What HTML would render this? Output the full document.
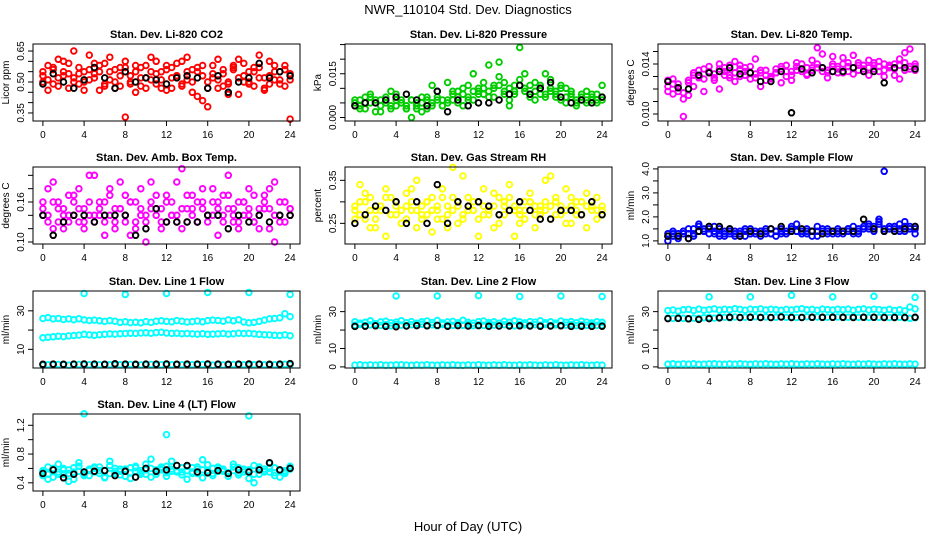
<!DOCTYPE html>
<html><head><meta charset="utf-8"><style>
html,body{margin:0;padding:0;background:#fff}
svg{display:block;font-family:"Liberation Sans",Arial,sans-serif}
</style></head><body>
<svg id="chart" width="936" height="540" viewBox="0 0 936 540" xmlns="http://www.w3.org/2000/svg">
<rect width="936" height="540" fill="#fff"/>
<text x="468" y="14" font-size="13" text-anchor="middle">NWR_110104  Std. Dev. Diagnostics</text>
<text x="468" y="531" font-size="13" text-anchor="middle">Hour of Day (UTC)</text>
</svg>
<script>
// ---- data ----
const xTickLabels=[0,4,8,12,16,20,24];
const co2A=[0.53,0.58,0.49,0.61,0.55,0.47,0.52,0.57,0.50,0.63,0.54,0.46,0.59,0.51,0.56,0.48,0.60,0.53,0.45,0.57,0.52,0.62,0.49,0.55,0.58,0.47,0.53,0.60,0.51,0.56,0.43,0.58,0.50,0.54,0.61,0.48,0.44,0.57,0.52,0.59,0.50,0.55,0.63,0.47,0.53,0.58,0.49,0.56,0.51];
const co2B=[0.50,0.46,0.56,0.52,0.60,0.54,0.65,0.49,0.55,0.51,0.59,0.55,0.48,0.62,0.50,0.57,0.33,0.49,0.58,0.52,0.47,0.55,0.60,0.51,0.46,0.57,0.53,0.49,0.62,0.45,0.55,0.41,0.38,0.52,0.47,0.56,0.50,0.58,0.44,0.53,0.49,0.57,0.52,0.46,0.60,0.51,0.55,0.48,0.32];
const co2C=[0.55,0.51,0.57,0.48,0.53,0.59,0.50,0.54,0.46,0.56,0.52,0.58,0.49,0.55,0.47,0.53,0.57,0.50,0.55,0.48,0.58,0.51,0.54,0.47,0.56,0.52,0.59,0.48,0.55,0.50,0.57,0.53,0.47,0.58,0.51,0.54,0.49,0.56,0.61,0.50,0.55,0.48,0.57,0.52,0.49,0.55,0.51,0.58,0.54];
const co2K=[0.49,0.54,0.50,0.47,0.51,0.57,0.52,0.47,0.55,0.50,0.52,0.51,0.49,0.52,0.53,0.52,0.47,0.53,0.45,0.50,0.52,0.59,0.52,0.55,0.53];
const prA=[0.004,0.006,0.003,0.007,0.005,0.002,0.006,0.004,0.008,0.005,0.003,0.006,0.004,0.007,0.003,0.005,0.009,0.004,0.006,0.008,0.005,0.010,0.007,0.006,0.009,0.012,0.007,0.010,0.014,0.008,0.006,0.011,0.013,0.009,0.007,0.012,0.010,0.008,0.013,0.009,0.006,0.010,0.007,0.005,0.008,0.006,0.007,0.005,0.011];
const prB=[0.006,0.003,0.005,0.008,0.002,0.006,0.005,0.009,0.004,0.006,0.003,0.000,0.005,0.002,0.007,0.011,0.006,0.004,0.012,0.006,0.009,0.004,0.011,0.015,0.010,0.008,0.018,0.011,0.019,0.012,0.004,0.009,0.024,0.015,0.011,0.006,0.008,0.015,0.010,0.007,0.011,0.005,0.009,0.004,0.007,0.009,0.006,0.008,0.006];
const prC=[0.005,0.004,0.007,0.005,0.006,0.004,0.007,0.003,0.006,0.005,0.004,0.006,0.003,0.005,0.006,0.004,0.007,0.006,0.005,0.009,0.007,0.008,0.006,0.009,0.008,0.010,0.009,0.007,0.011,0.009,0.010,0.008,0.011,0.010,0.008,0.009,0.011,0.007,0.009,0.008,0.010,0.007,0.008,0.006,0.007,0.005,0.008,0.006,0.007];
const prK=[0.004,0.005,0.005,0.006,0.007,0.008,0.006,0.004,0.009,0.002,0.006,0.004,0.005,0.005,0.006,0.008,0.011,0.008,0.010,0.012,0.007,0.005,0.006,0.005,0.007];
const tmA=[0.0122,0.0128,0.0118,0.0112,0.0125,0.0131,0.0135,0.0128,0.0138,0.0132,0.0140,0.0134,0.0129,0.0142,0.0136,0.0131,0.0138,0.0144,0.0133,0.0127,0.0130,0.0136,0.0125,0.0139,0.0134,0.0141,0.0136,0.0131,0.0143,0.0137,0.0148,0.0135,0.0140,0.0133,0.0145,0.0138,0.0132,0.0141,0.0136,0.0143,0.0139,0.0134,0.0140,0.0137,0.0131,0.0144,0.0149,0.0138,0.0135];
const tmB=[0.0127,0.0116,0.0124,0.0098,0.0115,0.0122,0.0129,0.0118,0.0133,0.0127,0.0120,0.0137,0.0131,0.0126,0.0139,0.0134,0.0128,0.0132,0.0122,0.0135,0.0129,0.0133,0.0138,0.0130,0.0127,0.0135,0.0140,0.0132,0.0137,0.0153,0.0134,0.0129,0.0146,0.0138,0.0133,0.0141,0.0147,0.0135,0.0139,0.0131,0.0136,0.0142,0.0130,0.0138,0.0140,0.0128,0.0135,0.0152,0.0140];
const tmC=[0.0118,0.0124,0.0121,0.0117,0.0127,0.0133,0.0130,0.0136,0.0134,0.0129,0.0136,0.0131,0.0139,0.0133,0.0130,0.0137,0.0133,0.0129,0.0135,0.0131,0.0128,0.0133,0.0136,0.0134,0.0131,0.0138,0.0134,0.0137,0.0135,0.0140,0.0137,0.0133,0.0138,0.0136,0.0140,0.0134,0.0137,0.0139,0.0134,0.0137,0.0141,0.0138,0.0135,0.0139,0.0136,0.0139,0.0141,0.0136,0.0138];
const tmK=[0.0126,0.0121,0.0120,0.0131,0.0133,0.0134,0.0137,0.0132,0.0133,0.0126,0.0126,0.0134,0.0101,0.0136,0.0133,0.0137,0.0134,0.0134,0.0137,0.0134,0.0134,0.0125,0.0137,0.0137,0.0136];
const abA=[0.16,0.13,0.19,0.15,0.12,0.17,0.14,0.18,0.13,0.16,0.20,0.14,0.11,0.17,0.15,0.19,0.13,0.16,0.12,0.18,0.10,0.15,0.17,0.13,0.16,0.14,0.19,0.12,0.17,0.15,0.13,0.18,0.14,0.16,0.11,0.17,0.20,0.14,0.12,0.16,0.18,0.13,0.15,0.17,0.12,0.19,0.14,0.16,0.15];
const abB=[0.14,0.18,0.12,0.16,0.14,0.13,0.17,0.15,0.12,0.20,0.14,0.16,0.13,0.18,0.12,0.15,0.17,0.11,0.16,0.14,0.13,0.19,0.15,0.12,0.17,0.14,0.13,0.21,0.15,0.17,0.13,0.16,0.14,0.18,0.15,0.13,0.17,0.15,0.13,0.16,0.14,0.17,0.12,0.15,0.18,0.10,0.13,0.16,0.14];
const abC=[0.15,0.14,0.16,0.13,0.15,0.14,0.16,0.13,0.15,0.14,0.13,0.15,0.16,0.14,0.13,0.15,0.14,0.16,0.13,0.15,0.14,0.16,0.14,0.15,0.13,0.16,0.14,0.15,0.13,0.14,0.16,0.15,0.13,0.14,0.16,0.14,0.15,0.13,0.16,0.14,0.15,0.13,0.14,0.16,0.15,0.14,0.16,0.13,0.15];
const abK=[0.14,0.11,0.13,0.14,0.14,0.13,0.14,0.14,0.14,0.11,0.12,0.15,0.13,0.13,0.13,0.13,0.14,0.14,0.12,0.14,0.13,0.14,0.13,0.14,0.14];
const rhA=[0.29,0.34,0.26,0.31,0.24,0.28,0.33,0.27,0.30,0.25,0.32,0.28,0.35,0.26,0.30,0.23,0.29,0.33,0.27,0.31,0.25,0.36,0.28,0.30,0.26,0.33,0.29,0.24,0.31,0.27,0.34,0.28,0.25,0.30,0.32,0.27,0.29,0.35,0.26,0.31,0.28,0.33,0.25,0.30,0.27,0.32,0.29,0.26,0.28];
const rhB=[0.26,0.30,0.32,0.24,0.28,0.29,0.22,0.31,0.27,0.25,0.29,0.33,0.24,0.27,0.30,0.28,0.26,0.31,0.24,0.38,0.29,0.26,0.31,0.28,0.22,0.29,0.27,0.32,0.25,0.29,0.31,0.22,0.28,0.26,0.30,0.24,0.28,0.30,0.36,0.27,0.29,0.25,0.31,0.27,0.30,0.24,0.28,0.31,0.27];
const rhC=[0.28,0.27,0.30,0.28,0.26,0.29,0.31,0.27,0.29,0.28,0.26,0.30,0.28,0.29,0.27,0.31,0.28,0.26,0.29,0.28,0.30,0.27,0.29,0.28,0.30,0.27,0.28,0.29,0.27,0.30,0.28,0.29,0.27,0.28,0.30,0.29,0.27,0.28,0.29,0.30,0.27,0.28,0.29,0.28,0.27,0.29,0.30,0.28,0.29];
const rhK=[0.25,0.27,0.29,0.28,0.30,0.25,0.30,0.25,0.34,0.25,0.30,0.29,0.30,0.29,0.27,0.28,0.30,0.28,0.26,0.26,0.28,0.28,0.27,0.30,0.27];
const sfA=[1.2,1.4,1.1,1.3,1.5,1.2,1.7,1.4,1.6,1.3,1.5,1.2,1.4,1.3,1.2,1.5,1.3,1.4,1.2,1.5,1.3,1.4,1.5,1.3,1.6,1.4,1.3,1.5,1.4,1.2,1.5,1.3,1.4,1.5,1.3,1.4,1.6,1.3,1.5,1.7,1.5,1.8,1.4,1.6,1.5,1.7,1.4,1.6,1.5];
const sfB=[1.0,1.3,1.2,1.4,1.1,1.3,1.4,1.5,1.3,1.6,1.2,1.3,1.5,1.2,1.4,1.2,1.5,1.3,1.4,1.3,1.5,1.2,1.4,1.3,1.4,1.7,1.3,1.4,1.2,1.6,1.3,1.5,1.4,1.3,1.4,1.5,1.3,1.4,1.6,1.5,1.4,1.9,3.9,1.5,1.6,1.4,1.8,1.5,1.3];
const sfC=[1.3,1.2,1.3,1.4,1.3,1.5,1.6,1.4,1.5,1.4,1.3,1.4,1.3,1.4,1.3,1.4,1.3,1.3,1.4,1.4,1.3,1.4,1.3,1.4,1.5,1.4,1.4,1.3,1.4,1.4,1.4,1.4,1.3,1.4,1.4,1.5,1.4,1.5,1.5,1.6,1.6,1.7,1.5,1.5,1.6,1.5,1.6,1.5,1.6];
const sfK=[1.2,1.2,1.1,1.4,1.6,1.6,1.5,1.2,1.4,1.3,1.5,1.6,1.4,1.5,1.4,1.3,1.4,1.4,1.4,1.9,1.5,1.4,1.4,1.5,1.6];
const l1Up=[26,26.5,25.8,26,25.5,25.8,25.4,25.9,25.3,25,25.2,24.8,24.5,24.9,24.6,24,24.3,23.9,24.1,23.8,24.4,24,24.6,24.8,24.5,24.3,24.9,24.6,24.2,24.4,24.7,24.3,24.9,25.2,25,24.6,25.3,24.8,25.4,24.2,23.8,24,24.5,25.2,25.8,26,26.3,28.5,27];
const l1Lo=[16,16.3,16.5,16.8,16.6,17,17.2,17.4,17.8,17.5,17.3,17.6,17.8,18,17.9,18.1,18.2,18.4,18.3,18.5,18.6,18.4,18.7,18.9,18.5,18.3,18.4,18.1,18.2,18,17.9,18.1,17.8,17.9,18,18.2,17.9,18.1,18.4,18.2,18.3,18,17.8,17.6,17.5,17.3,17.2,17.5,17.1];
const l1Bot=[1.8,2,1.9,2.1,2,1.8,2,2.1,1.9,2,1.8,2,2.1,2,1.9,2,1.8,2.1,2,1.9,2,2.1,1.8,2,1.9,2,2.1,2,1.8,2,1.9,2.1,2,1.8,2,1.9,2,2.1,1.9,2,1.8,2,2.1,2,1.9,2,1.8,2.2,2];
const l1K=[2.2,2.3,2.2,2.3,2.4,2.3,2.2,2.5,2.3,2.2,2.3,2.3,2.4,2.2,2.3,2.3,2.4,2.3,2.2,2.3,2.4,2.3,2.2,2.3,2.6];
const outH=[4,8,12,16,20,24];
const l1Out=[39,38.5,39,39.5,39.5,38.5];
const l2Up=[24.5,23.8,24.2,25,23.5,24.4,24.8,23.9,24.3,25.1,24,24.6,23.7,24.5,24.9,24.1,25.2,23.9,24.4,24.7,24,25.3,24.2,23.8,24.6,24.9,24.1,24.5,23.7,24.8,24.2,25,24.4,23.9,24.6,24.3,25.1,24,24.5,23.8,24.9,24.2,24.6,24,24.8,24.3,23.9,24.5,24.2];
const l2Lo=[22.6,23,22.4,22.8,23.1,22.5,22.9,22.3,23,22.7,22.4,22.9,22.6,23.1,22.5,22.8,22.3,23,22.7,22.5,22.9,22.6,23,22.4,22.8,22.5,23.1,22.7,22.4,22.9,22.6,22.3,23,22.8,22.5,22.9,22.6,23,22.4,22.8,22.5,22.7,23,22.4,22.8,22.6,22.9,22.5,22.7];
const l2Bot=[1,1.2,0.9,1.1,1,1.2,0.9,1,1.1,1.2,1,0.9,1.1,1,1.2,1,0.9,1.1,1,1.2,1,0.9,1.1,1,1.2,1,0.9,1.1,1,1.2,1,0.9,1.1,1,1.2,1,0.9,1.1,1,1.2,1,0.9,1.1,1,1.2,1,0.9,1.1,1];
const l2K=[22,22.1,22.3,22,21.8,22.2,22.4,22.3,22.5,22.1,22.4,22.2,22.4,22.1,22.2,22.2,22.3,22.2,22.1,22.2,22.3,22,22.1,22,22.1];
const l2Out=[38.5,38.5,38.7,38.2,38.5,38.2];
const l3Up=[30.6,30.9,30.3,31,31.2,30.6,31.4,30.8,31.1,31.5,30.9,31.3,31,31.6,31.2,30.8,31.4,31.1,31.5,30.9,31.3,31,30.7,31.2,30.9,31.3,31.6,31,31.2,30.8,31.4,31.1,30.9,31.3,31,31.4,30.8,31.2,31.5,30.9,31.3,31.1,30.8,31.2,30.6,31,30.4,32.5,31.5];
const l3Mid=[26.5,26.3,26.6,26.4,26.2,26.5,26.3,26.7,26.8,26.5,26.9,27,26.7,27.1,26.8,27,26.9,27.2,26.9,27.1,26.8,27,27.2,26.9,27.1,26.8,27,27.2,26.9,27.1,26.8,27,26.9,27.1,26.8,27,27.2,26.9,27.1,26.8,27,26.9,27.1,26.8,27,26.9,26.6,26.4,26.7];
const l3Bot=[1.5,1.7,1.4,1.6,1.5,1.7,1.4,1.5,1.6,1.7,1.5,1.4,1.6,1.5,1.7,1.5,1.4,1.6,1.5,1.7,1.5,1.4,1.6,1.5,1.7,1.5,1.4,1.6,1.5,1.7,1.5,1.4,1.6,1.5,1.7,1.5,1.4,1.6,1.5,1.7,1.5,1.4,1.6,1.5,1.7,1.5,1.4,1.6,1.5];
const l3K=[26.2,26.3,26.1,25.8,26.2,26.6,26.9,26.8,26.9,26.8,26.8,27.1,26.8,26.8,26.9,26.9,26.9,26.9,26.8,26.9,26.9,26.8,26.8,26.8,26.9];
const l3Out=[38,38,38.8,38,38.3,37.8];
const l4A=[0.55,0.62,0.48,0.66,0.52,0.58,0.45,0.63,0.55,0.50,0.60,0.57,0.47,0.64,0.53,0.59,0.49,0.61,0.56,0.52,0.66,0.48,0.58,0.62,0.54,0.70,0.57,0.51,0.63,0.55,0.59,0.47,0.65,0.53,0.60,0.56,0.49,0.62,0.54,0.58,0.46,0.64,0.52,0.59,0.55,0.61,0.48,0.57,0.63];
const l4B=[0.50,0.45,0.58,0.52,0.60,0.42,0.55,0.68,0.50,0.57,0.62,0.53,0.48,0.70,0.56,0.51,0.59,0.46,0.63,0.54,0.58,0.73,0.52,0.60,0.49,0.56,0.64,0.55,0.45,0.61,0.53,0.72,0.57,0.50,0.62,0.58,0.54,0.66,0.51,0.59,0.56,0.40,0.62,0.55,0.67,0.50,0.58,0.53,0.60];
const l4C=[0.57,0.52,0.60,0.55,0.58,0.53,0.61,0.56,0.52,0.59,0.55,0.62,0.57,0.53,0.60,0.56,0.58,0.54,0.61,0.57,0.52,0.60,0.55,0.58,0.63,0.59,0.55,0.61,0.57,0.53,0.62,0.58,0.54,0.60,0.56,0.59,0.53,0.57,0.61,0.55,0.58,0.52,0.59,0.56,0.60,0.54,0.57,0.55,0.59];
const l4K=[0.53,0.58,0.47,0.52,0.55,0.56,0.57,0.50,0.56,0.48,0.60,0.56,0.58,0.64,0.64,0.55,0.54,0.57,0.53,0.58,0.55,0.58,0.68,0.58,0.60];
const l4OutH=[4,12,20];
const l4Out=[1.36,1.07,1.33];

// ---- layout ----
const svg=document.getElementById('chart');
const NS='http://www.w3.org/2000/svg';
const colX=[33,345,658], rowY=[44,167,291,414], W=267, H=77;
function mk(tag,attrs,parent){const e=document.createElementNS(NS,tag);for(const k in attrs)e.setAttribute(k,attrs[k]);(parent||svg).appendChild(e);return e;}
function evenHours(n){const h=[];for(let i=0;i<n;i++)h.push(i*24/(n-1));return h;}

function panel(p){
  const L=colX[p.col], T=rowY[p.row];
  const g=mk('g',{});
  
  
  const xs=h=>L+9.9+h*(W-19.8)/24;
  const ys=v=>T+H-(v-p.ymin)/(p.ymax-p.ymin)*H;
  const t=mk('text',{x:L+W/2,y:T-6,'font-size':11,'font-weight':'bold','text-anchor':'middle'},g);
  t.textContent=p.title;
  
  
  p.series.forEach(s=>{
    const hrs=s.hours||evenHours(s.values.length);
    s.values.forEach((v,i)=>{
      const c=mk('circle',{cx:xs(hrs[i]).toFixed(1),cy:ys(v).toFixed(1),r:2.8,fill:'none',stroke:s.color,'stroke-width':1.9},g);
      
      
    });
  });
  const box=mk('rect',{x:L,y:T,width:W,height:H,fill:'none',stroke:'#000','stroke-width':1},g);
  
  
  xTickLabels.forEach(h=>{
    mk('line',{x1:xs(h),x2:xs(h),y1:T+H,y2:T+H+5,stroke:'#000'},g);
    const tl=mk('text',{x:xs(h),y:T+H+17,'font-size':10,'text-anchor':'middle'},g);
    tl.textContent=h;
    
    
  });
  p.yticks.forEach(v=>{
    if(v<p.ymin||v>p.ymax)return;
    mk('line',{x1:L-5,x2:L,y1:ys(v),y2:ys(v),stroke:'#000'},g);
  });
  p.ylabels.forEach(v=>{
    const y=ys(v);
    const tl=mk('text',{x:L-9,y:y,'font-size':10,'text-anchor':'middle',transform:`rotate(-90 ${L-9} ${y})`},g);
    tl.textContent=p.fmt(v);
    
    
  });
  const yl=mk('text',{x:L-24,y:T+H/2,'font-size':10,'text-anchor':'middle',transform:`rotate(-90 ${L-24} ${T+H/2})`},g);
  yl.textContent=p.ylab;
  
  
}
const f2=v=>v.toFixed(2), f3=v=>v.toFixed(3), f1=v=>v.toFixed(1), f0=v=>v.toFixed(0);
const RED='#ff0000',GRN='#00cc00',MAG='#ff00ff',YEL='#ffff00',BLU='#0000ff',CYN='#00ffff',BLK='#000';
panel({name:'panel-co2',col:0,row:0,title:'Stan. Dev. Li-820 CO2',ylab:'Licor ppm',ymin:0.311,ymax:0.684,yticks:[0.35,0.40,0.45,0.50,0.55,0.60,0.65],ylabels:[0.35,0.50,0.65],fmt:f2,
  series:[{name:'co2-a',color:RED,values:co2A},{name:'co2-b',color:RED,values:co2B},{name:'co2-c',color:RED,values:co2C},{name:'co2-hourly',color:BLK,values:co2K}]});
panel({name:'panel-pressure',col:1,row:0,title:'Stan. Dev. Li-820 Pressure',ylab:'kPa',ymin:-0.0012,ymax:0.0252,yticks:[0,0.005,0.010,0.015,0.020,0.025],ylabels:[0,0.015],fmt:f3,
  series:[{name:'pressure-a',color:GRN,values:prA},{name:'pressure-b',color:GRN,values:prB},{name:'pressure-c',color:GRN,values:prC},{name:'pressure-hourly',color:BLK,values:prK}]});
panel({name:'panel-li820-temp',col:2,row:0,title:'Stan. Dev. Li-820 Temp.',ylab:'degrees C',ymin:0.00944,ymax:0.0156,yticks:[0.010,0.011,0.012,0.013,0.014,0.015],ylabels:[0.010,0.014],fmt:f3,
  series:[{name:'temp-a',color:MAG,values:tmA},{name:'temp-b',color:MAG,values:tmB},{name:'temp-c',color:MAG,values:tmC},{name:'temp-hourly',color:BLK,values:tmK}]});
panel({name:'panel-amb-box-temp',col:0,row:1,title:'Stan. Dev. Amb. Box Temp.',ylab:'degrees C',ymin:0.097,ymax:0.2125,yticks:[0.10,0.12,0.14,0.16,0.18,0.20],ylabels:[0.10,0.16],fmt:f2,
  series:[{name:'amb-a',color:MAG,values:abA},{name:'amb-b',color:MAG,values:abB},{name:'amb-c',color:MAG,values:abC},{name:'amb-hourly',color:BLK,values:abK}]});
panel({name:'panel-gas-rh',col:1,row:1,title:'Stan. Dev. Gas Stream RH',ylab:'percent',ymin:0.202,ymax:0.381,yticks:[0.20,0.25,0.30,0.35],ylabels:[0.25,0.35],fmt:f2,
  series:[{name:'rh-a',color:YEL,values:rhA},{name:'rh-b',color:YEL,values:rhB},{name:'rh-c',color:YEL,values:rhC},{name:'rh-hourly',color:BLK,values:rhK}]});
panel({name:'panel-sample-flow',col:2,row:1,title:'Stan. Dev. Sample Flow',ylab:'ml/min',ymin:0.87,ymax:4.08,yticks:[1,1.5,2,2.5,3,3.5,4],ylabels:[1,2,3,4],fmt:f1,
  series:[{name:'flow-a',color:BLU,values:sfA},{name:'flow-b',color:BLU,values:sfB},{name:'flow-c',color:BLU,values:sfC},{name:'flow-hourly',color:BLK,values:sfK}]});
panel({name:'panel-line1',col:0,row:2,title:'Stan. Dev. Line 1 Flow',ylab:'ml/min',ymin:0.3,ymax:40.3,yticks:[10,20,30],ylabels:[10,30],fmt:f0,
  series:[{name:'line1-upper',color:CYN,values:l1Up},{name:'line1-lower',color:CYN,values:l1Lo},{name:'line1-bottom',color:CYN,values:l1Bot},{name:'line1-outlier',color:CYN,values:l1Out,hours:outH},{name:'line1-hourly',color:BLK,values:l1K}]});
panel({name:'panel-line2',col:1,row:2,title:'Stan. Dev. Line 2 Flow',ylab:'ml/min',ymin:-0.6,ymax:41.2,yticks:[0,10,20,30],ylabels:[0,10,30],fmt:f0,
  series:[{name:'line2-upper',color:CYN,values:l2Up},{name:'line2-lower',color:CYN,values:l2Lo},{name:'line2-bottom',color:CYN,values:l2Bot},{name:'line2-outlier',color:CYN,values:l2Out,hours:outH},{name:'line2-hourly',color:BLK,values:l2K}]});
panel({name:'panel-line3',col:2,row:2,title:'Stan. Dev. Line 3 Flow',ylab:'ml/min',ymin:-0.6,ymax:41.2,yticks:[0,10,20,30],ylabels:[0,10,30],fmt:f0,
  series:[{name:'line3-upper',color:CYN,values:l3Up},{name:'line3-mid',color:CYN,values:l3Mid},{name:'line3-bottom',color:CYN,values:l3Bot},{name:'line3-outlier',color:CYN,values:l3Out,hours:outH},{name:'line3-hourly',color:BLK,values:l3K}]});
panel({name:'panel-line4',col:0,row:3,title:'Stan. Dev. Line 4 (LT) Flow',ylab:'ml/min',ymin:0.286,ymax:1.357,yticks:[0.4,0.6,0.8,1.0,1.2],ylabels:[0.4,0.8,1.2],fmt:f1,
  series:[{name:'line4-a',color:CYN,values:l4A},{name:'line4-b',color:CYN,values:l4B},{name:'line4-c',color:CYN,values:l4C},{name:'line4-outlier',color:CYN,values:l4Out,hours:l4OutH},{name:'line4-hourly',color:BLK,values:l4K}]});
</script>
</body></html>
